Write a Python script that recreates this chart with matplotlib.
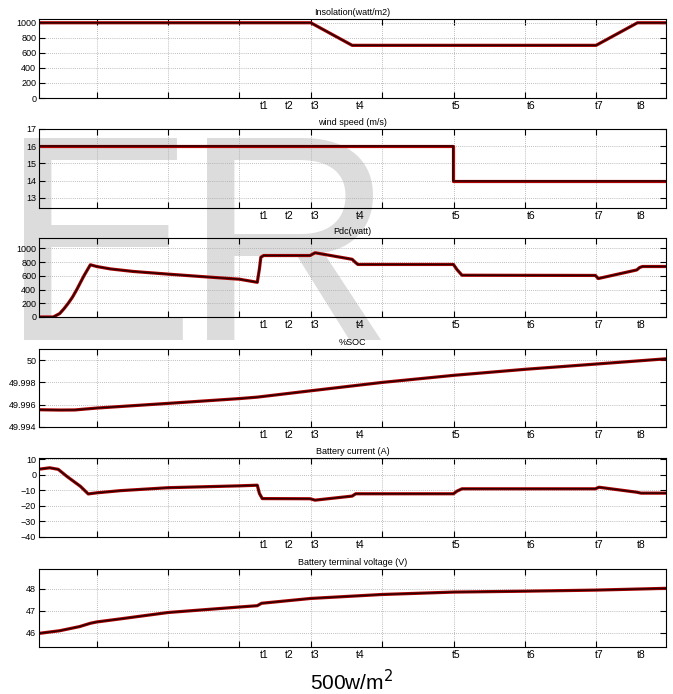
# six stacked simulation panels: insolation, wind, Pdc, SOC, battery current, voltage

import matplotlib
matplotlib.use('Agg')
import matplotlib.pyplot as plt
import matplotlib.transforms as mtransforms

plt.rcParams['font.family'] = ['Liberation Sans', 'DejaVu Sans']

# time axis is in grid units (one gridline per unit)
x_max = 8.79
grid_x = [0.81, 1.81, 2.81, 3.81, 4.81, 5.82, 6.82, 7.81]
event_labels = ['t1', 't2', 't3', 't4', 't5', 't6', 't7', 't8']
event_x = [3.16, 3.51, 3.87, 4.50, 5.85, 6.90, 7.85, 8.44]

ins_t = [0, 3.81, 4.39, 7.81, 8.39, 8.79]
ins_v = [1000, 1000, 700, 700, 1000, 1000]

wind_t = [0, 5.80, 5.80, 8.79]
wind_v = [16, 16, 14, 14]

pdc_t = [0, 0.20, 0.29, 0.35, 0.41, 0.47, 0.53, 0.63, 0.72, 0.81, 1.0, 1.32, 1.81, 2.26, 2.81,
         3.06, 3.09, 3.11, 3.15, 3.80, 3.87, 4.39, 4.43, 4.47, 5.81, 5.86, 5.93, 7.80, 7.84,
         8.38, 8.42, 8.46, 8.79]
pdc_v = [0, 0, 50, 120, 200, 290, 400, 600, 760, 735, 700, 663, 624, 590, 550,
         505, 700, 870, 895, 895, 935, 840, 800, 765, 765, 690, 608, 605, 560,
         685, 720, 735, 735]

soc_t = [0, 0.3, 0.5, 0.81, 1.81, 2.81, 3.06, 3.81, 4.81, 5.82, 6.82, 7.81, 8.79]
soc_v = [49.99555, 49.99552, 49.99553, 49.99570, 49.99612, 49.99655, 49.99668,
         49.99725, 49.99800, 49.99864, 49.99918, 49.99965, 50.00012]

cur_t = [0, 0.15, 0.27, 0.39, 0.58, 0.69, 0.81, 1.14, 1.81, 2.81, 3.06, 3.09, 3.13, 3.80, 3.87,
         4.39, 4.44, 5.81, 5.86, 5.93, 7.80, 7.85, 8.38, 8.44, 8.79]
cur_v = [3.6, 4.5, 3.5, -1, -7.4, -12.3, -11.6, -10.2, -8.3, -7.1, -6.7, -12, -15.3, -15.4, -16.3,
         -13.7, -12.2, -12.2, -10.5, -9.0, -9.0, -8.0, -11.2, -11.8, -11.8]

volt_t = [0, 0.29, 0.57, 0.72, 0.81, 1.14, 1.81, 2.81, 3.06, 3.12, 3.81, 4.81, 5.82, 6.82, 7.81, 8.79]
volt_v = [45.97, 46.09, 46.28, 46.43, 46.49, 46.63, 46.92, 47.17, 47.23, 47.34, 47.56,
          47.74, 47.85, 47.89, 47.94, 48.02]

panels = [
    ('Insolation(watt/m2)', ins_t, ins_v, (0, 1050), [0, 200, 400, 600, 800, 1000], None),
    ('wind speed (m/s)', wind_t, wind_v, (12.4, 17), [13, 14, 15, 16, 17], None),
    ('Pdc(watt)', pdc_t, pdc_v, (0, 1150), [0, 200, 400, 600, 800, 1000], None),
    ('%SOC', soc_t, soc_v, (49.994, 50.001), [49.994, 49.996, 49.998, 50.0],
     ['49.994', '49.996', '49.998', '50']),
    ('Battery current (A)', cur_t, cur_v, (-40, 10.8), [-40, -30, -20, -10, 0, 10], None),
    ('Battery terminal voltage (V)', volt_t, volt_v, (45.35, 48.9), [46, 47, 48], None),
]

# pixel rows of each panel (top, bottom)
rows = [(19, 98), (129, 208), (238, 317), (349, 427), (458, 537), (569, 647)]

W, H = 673, 694
fig = plt.figure(figsize=(W / 100, H / 100), dpi=100)

# faint watermark behind the panels
wm = dict(fontsize=211, color='#dcdcdc', va='baseline', zorder=-5)
fig.text(0.0, 1 - 340 / H, 'E', **wm)
fig.text(0.272, 1 - 340 / H, 'R', **wm)

left, right = 39, 666
for (title, t, v, ylim, yt, ytl), (top, bot) in zip(panels, rows):
    ax = fig.add_axes([left / W, 1 - bot / H, (right - left) / W, (bot - top) / H])
    ax.set_facecolor('none')
    ax.plot(t, v, color='#b00000', lw=2.3, solid_capstyle='butt')
    ax.plot(t, v, color='#2a0000', lw=1.1)
    ax.set_xlim(0, x_max)
    ax.set_ylim(*ylim)
    ax.set_xticks(grid_x)
    ax.set_xticklabels([])
    ax.set_yticks(yt)
    if ytl:
        ax.set_yticklabels(ytl)
    ax.grid(True, linestyle=(0, (1, 1.5)), color='#a8a8a8', lw=0.6)
    ax.tick_params(direction='in', top=True, right=True, length=4, width=0.8,
                   labelsize=6.5, pad=2)
    for s in ax.spines.values():
        s.set_linewidth(0.8)
    ax.set_title(title, fontsize=6.5, pad=3)
    trans = mtransforms.blended_transform_factory(ax.transData, ax.transAxes)
    for lab, ex in zip(event_labels, event_x):
        ax.text(ex, -0.04, lab, transform=trans, ha='center', va='top', fontsize=7.5)

fig.text(352 / W, 1 - 682 / H, '500w/m$^2$', ha='center', va='center', fontsize=15)

fig.savefig('out.png', dpi=100)
